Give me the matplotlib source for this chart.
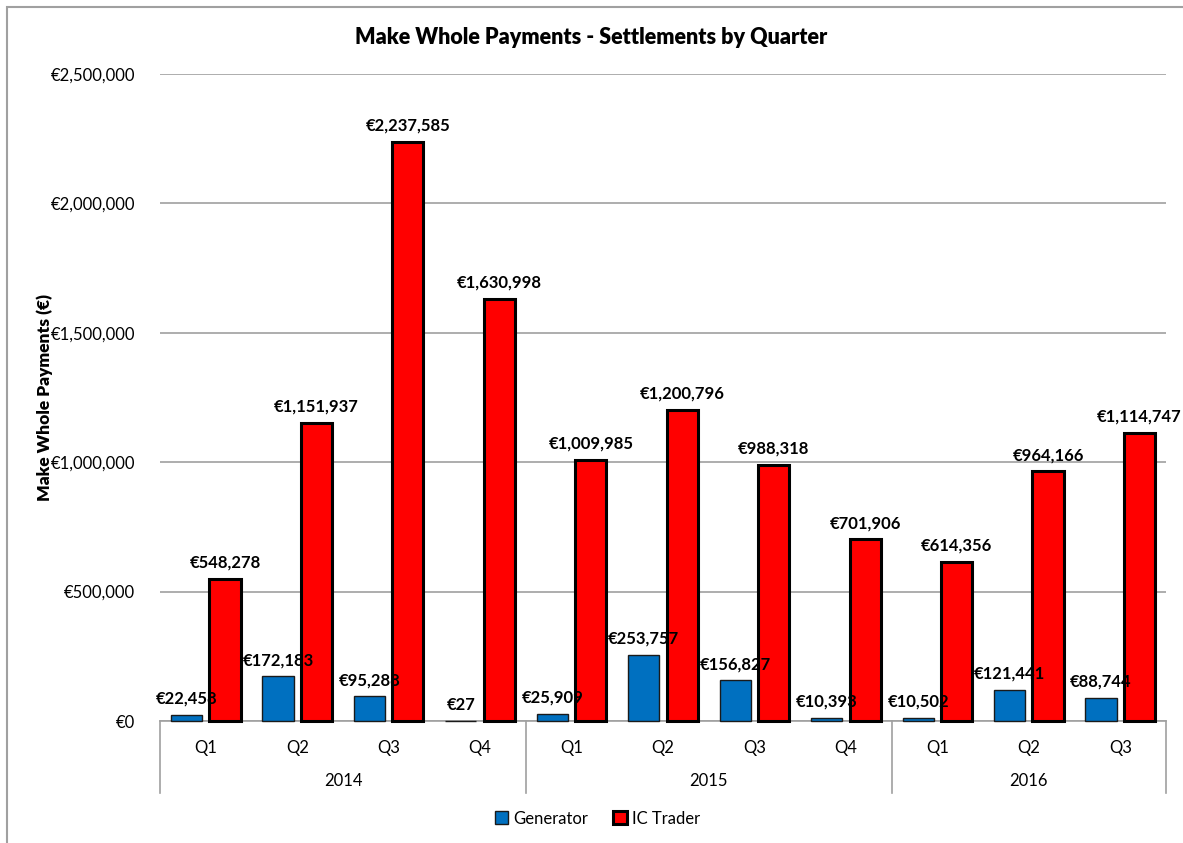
import numpy as np
import matplotlib.pyplot as plt
import matplotlib.transforms as mtransforms
from matplotlib.patches import Rectangle
from matplotlib.ticker import FuncFormatter

plt.rcParams['font.family'] = ['Lato', 'DejaVu Sans']

quarters = ['Q1', 'Q2', 'Q3', 'Q4', 'Q1', 'Q2', 'Q3', 'Q4', 'Q1', 'Q2', 'Q3']
years = ['2014', '2015', '2016']
year_counts = [4, 4, 3]
generator = [22458, 172183, 95288, 27, 25909, 253757, 156827, 10393, 10502, 121441, 88744]
ic_trader = [548278, 1151937, 2237585, 1630998, 1009985, 1200796, 988318, 701906, 614356, 964166, 1114747]

fig = plt.figure(figsize=(11.83, 8.43), dpi=100)
ax = fig.add_axes([0.1353, 0.1447, 0.8503, 0.7675])

x = np.arange(len(quarters))
w = 0.34
off = 0.21
b1 = ax.bar(x - off, generator, w, color='#0070C0', edgecolor='#1a1a1a', linewidth=1.0,
            label='Generator', zorder=3, clip_on=False)
b2 = ax.bar(x + off, ic_trader, w, color='#FF0000', edgecolor='black', linewidth=2.2,
            label='IC Trader', zorder=3, clip_on=False)

euro = lambda v: '€{:,.0f}'.format(v)
for bars, vals in [(b1, generator), (b2, ic_trader)]:
    for rect, v in zip(bars, vals):
        ax.annotate(euro(v), (rect.get_x() + rect.get_width() / 2, v),
                    xytext=(0, 6), textcoords='offset points',
                    ha='center', va='bottom', fontsize=12, fontweight='bold', zorder=5)

ax.set_ylim(0, 2500000)
ax.set_xlim(-0.5, len(quarters) - 0.5)
ax.set_yticks(np.arange(0, 2500001, 500000))
ax.yaxis.set_major_formatter(FuncFormatter(lambda v, p: euro(v)))
ax.grid(axis='y', color='#a0a0a0', linewidth=1.2, zorder=0)
for s in ['top', 'right', 'left']:
    ax.spines[s].set_visible(False)
ax.spines['bottom'].set_color('#a0a0a0')
ax.spines['bottom'].set_linewidth(1.2)
ax.spines['bottom'].set_zorder(2)
ax.tick_params(axis='y', length=0, pad=18, labelsize=12)
ax.set_xticks(x)
ax.set_xticklabels(quarters)
ax.tick_params(axis='x', length=0, pad=14, labelsize=12)

# multi-level category axis
trans = mtransforms.blended_transform_factory(ax.transData, ax.transAxes)
depth = -0.111
bounds = [-0.5]
for n in year_counts:
    bounds.append(bounds[-1] + n)
for b in bounds:
    ax.plot([b, b], [0, depth], transform=trans, color='#a0a0a0', linewidth=1.2, clip_on=False)
for yr, lo, hi in zip(years, bounds[:-1], bounds[1:]):
    ax.text((lo + hi) / 2, -0.093, yr, transform=trans, ha='center', va='center', fontsize=12)

ax.set_ylabel('Make Whole Payments (€)', fontsize=12.5, fontweight='heavy')
ax.yaxis.set_label_coords(-0.106, 0.5)
fig.text(0.5, 0.956, 'Make Whole Payments - Settlements by Quarter', ha='center', va='center',
         fontsize=15.5, fontweight='heavy')

fig.legend(handles=[b1, b2], loc='center', bbox_to_anchor=(0.505, 0.029), ncol=2, frameon=False,
           fontsize=12, handlelength=0.8, handleheight=0.8, handletextpad=0.3, columnspacing=1.5)

fig.patches.append(Rectangle((7 / 1183, -0.1), 1.2, 1.1 - 7 / 843, transform=fig.transFigure,
                             fill=False, edgecolor='#a0a0a0', linewidth=1.5))

fig.savefig('out.png', dpi=100)
